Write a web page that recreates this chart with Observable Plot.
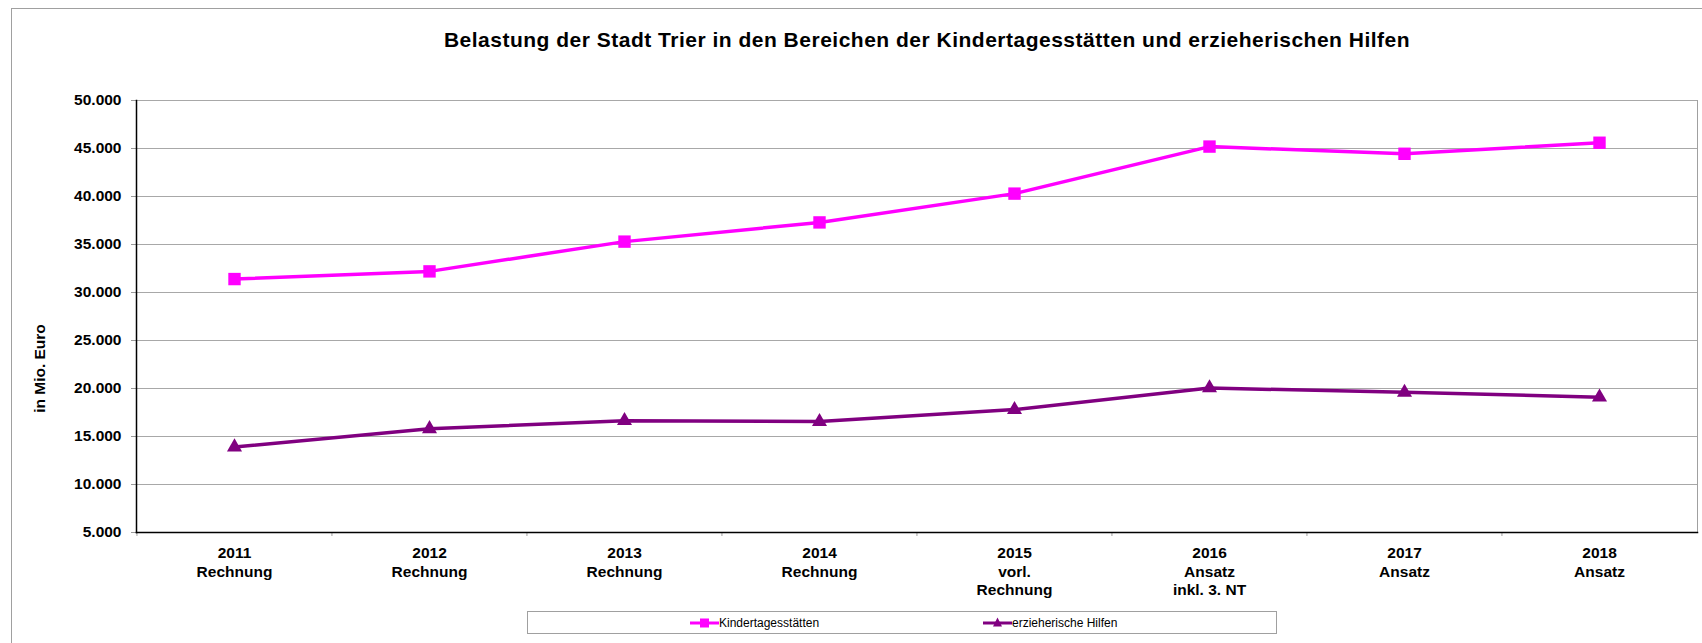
<!DOCTYPE html>
<html>
<head>
<meta charset="utf-8">
<script src="https://cdn.jsdelivr.net/npm/d3@7"></script>
<script src="https://cdn.jsdelivr.net/npm/@observablehq/plot@0.6"></script>
<style>
  html, body { margin: 0; padding: 0; background: #fff; overflow: hidden; }
  body { width: 1702px; height: 643px; position: relative; font-family: "Liberation Sans", Arial, sans-serif; }
  #frame { position: absolute; left: 11px; top: 8px; width: 1702px; height: 700px; border-left: 1px solid #a0a0a0; border-top: 1px solid #a0a0a0; }
  #title { position: absolute; left: 377px; top: 29px; width: 1100px; text-align: center; font-size: 21px; letter-spacing: 0.5px; line-height: 21px; font-weight: bold; color: #000; white-space: nowrap; }
  #chart { position: absolute; left: 0; top: 70px; }
  #legend { position: absolute; left: 527px; top: 611px; width: 750px; height: 23px; border: 1px solid #a0a0a0; box-sizing: border-box; font-size: 12px; color: #000; }
  .item { position: absolute; top: 0; height: 21px; display: flex; align-items: center; white-space: nowrap; }
  .item svg { display: block; }
</style>
</head>
<body>
<div id="frame"></div>
<div id="title">Belastung der Stadt Trier in den Bereichen der Kindertagesstätten und erzieherischen Hilfen</div>
<div id="chart"></div>
<div id="legend"></div>
<script>
const categories = ["2011\nRechnung", "2012\nRechnung", "2013\nRechnung", "2014\nRechnung",
  "2015\nvorl.\nRechnung", "2016\nAnsatz\ninkl. 3. NT", "2017\nAnsatz", "2018\nAnsatz"];
const kindertagesstaetten = [31400, 32200, 35300, 37300, 40300, 45200, 44450, 45600];
const erzieherischeHilfen = [13900, 15800, 16650, 16550, 17800, 20050, 19600, 19100];
const yTicks = [5000, 10000, 15000, 20000, 25000, 30000, 35000, 40000, 45000, 50000];
const seriesNames = ["Kindertagesstätten", "erzieherische Hilfen"];
const seriesColors = ["#FF00FF", "#800080"];
const yLabel = "in Mio. Euro";

const rows = [];
categories.forEach((c, i) => {
  rows.push({cat: c, value: kindertagesstaetten[i], series: seriesNames[0]});
  rows.push({cat: c, value: erzieherischeHilfen[i], series: seriesNames[1]});
});

const W = 1702, H = 525, mL = 136, mR = 5, mT = 30, mB = 63;
const step = (W - mL - mR) / categories.length;
const deFmt = d => d3.format(",")(d).replace(/,/g, ".");

const chart = Plot.plot({
  width: W, height: H,
  marginLeft: mL, marginRight: mR, marginTop: mT, marginBottom: mB,
  style: {fontFamily: "'Liberation Sans', Arial, sans-serif", fontSize: "15.5px", color: "#000", background: "transparent", overflow: "visible"},
  x: {type: "point", domain: categories, padding: 0.5, label: null},
  y: {domain: [5000, 50000], label: null},
  color: {domain: seriesNames, range: seriesColors},
  marks: [
    Plot.gridY(yTicks, {stroke: "#a8a8a8", strokeOpacity: 1, strokeWidth: 1}),
    Plot.frame({anchor: "right", stroke: "#a0a0a0"}),
    Plot.axisY(yTicks, {tickSize: 5, tickPadding: 10, tickFormat: deFmt, stroke: "#999", fontWeight: "bold", fontSize: 15.5, label: null}),
    Plot.axisX({tickSize: 0, tickPadding: 13, lineHeight: 1.17, fontWeight: "bold", fontSize: 15.5, label: null}),
    Plot.ruleX(categories, {x: d => d, dx: -step / 2, insetTop: H - mT - mB, insetBottom: -4, stroke: "#a0a0a0"}),
    Plot.frame({anchor: "left", stroke: "#000", strokeWidth: 1.5}),
    Plot.frame({anchor: "bottom", stroke: "#000", strokeWidth: 1.5}),
    Plot.line(rows, {x: "cat", y: "value", z: "series", stroke: "series", strokeWidth: 3.5}),
    Plot.dot(rows.filter(d => d.series === seriesNames[0]), {x: "cat", y: "value", symbol: "square", r: 7, fill: "series", stroke: null}),
    Plot.dot(rows.filter(d => d.series === seriesNames[1]), {x: "cat", y: "value", symbol: "triangle", r: 5.6, fill: "series", stroke: null}),
    Plot.text([yLabel], {text: d => d, frameAnchor: "left", dx: -96, dy: 52, rotate: -90, fontWeight: "bold", fontSize: 15.5, textAnchor: "middle"})
  ]
});
document.getElementById("chart").appendChild(chart);

// Legend (HTML with small inline swatches)
const legend = document.getElementById("legend");
const legendPos = [162, 455];
seriesNames.forEach((name, i) => {
  const item = document.createElement("div");
  item.className = "item";
  item.style.left = legendPos[i] + "px";
  const sym = i === 0
    ? `<rect x="10" y="6.5" width="9" height="9" fill="${seriesColors[i]}"/>`
    : `<path d="M14.5,5.5 L19,14.5 L10,14.5 Z" fill="${seriesColors[i]}"/>`;
  item.innerHTML = `<svg width="29" height="21"><line x1="0" x2="29" y1="11" y2="11" stroke="${seriesColors[i]}" stroke-width="3"/>${sym}</svg><span>${name}</span>`;
  legend.appendChild(item);
});
</script>
</body>
</html>
